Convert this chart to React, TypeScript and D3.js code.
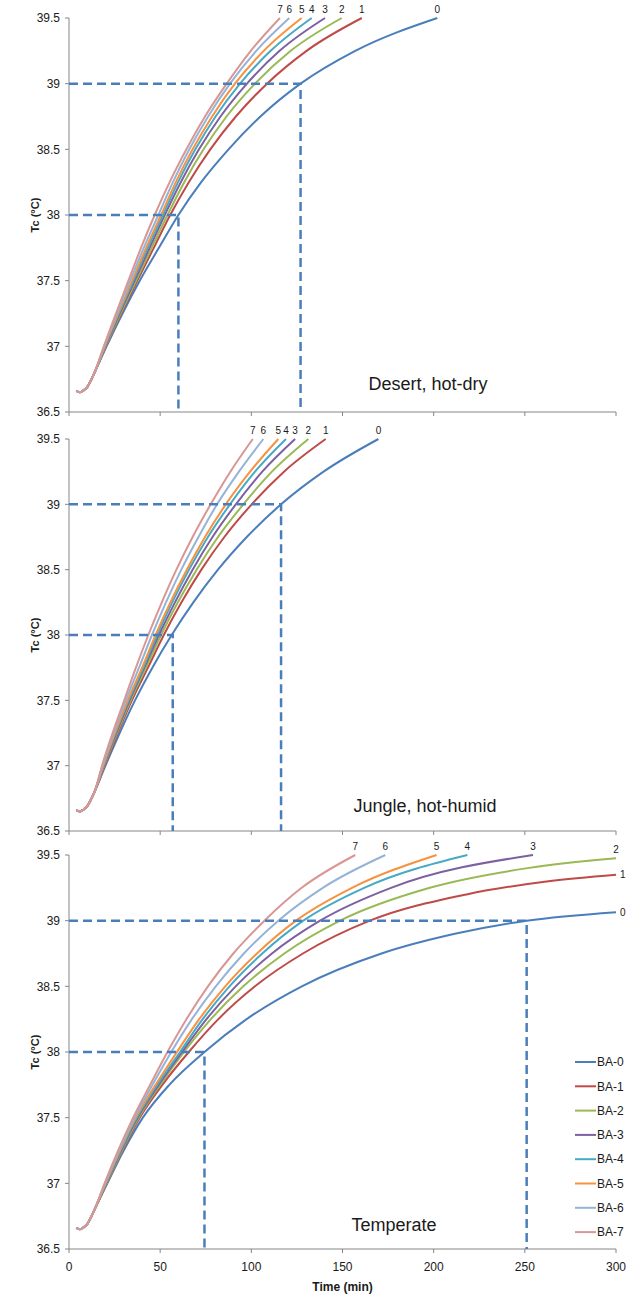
import { useEffect, useRef } from "react";
import * as d3 from "d3";

// ---- data ----
const SERIES = ["BA-0", "BA-1", "BA-2", "BA-3", "BA-4", "BA-5", "BA-6", "BA-7"];
const END_LABELS = ["0", "1", "2", "3", "4", "5", "6", "7"];

const X_TICKS = [0, 50, 100, 150, 200, 250, 300];
const Y_TICKS = [36.5, 37, 37.5, 38, 38.5, 39, 39.5];

// shared warm-up hook at the start of every curve [time, Tc]
const START: [number, number][] = [[4, 36.66], [6, 36.65], [8, 36.665], [10, 36.69], [12, 36.74], [14, 36.8]];

// [time (min), Tc] per series, BA-0 .. BA-7
const DESERT: [number, number][][] = [
  [[20.6, 37], [38.8, 37.5], [49.3, 37.75], [60, 38], [72.5, 38.25], [87.5, 38.5], [105, 38.75], [127, 39], [157, 39.25], [202, 39.5]],
  [[20.3, 37], [37.5, 37.5], [46.5, 37.75], [55.5, 38], [65.7, 38.25], [77.5, 38.5], [91.5, 38.75], [108.6, 39], [130.3, 39.25], [160.6, 39.5]],
  [[20.1, 37], [36.8, 37.5], [45.3, 37.75], [54, 38], [63.2, 38.25], [73.8, 38.5], [86.4, 38.75], [102, 39], [121.6, 39.25], [149.6, 39.5]],
  [[19.9, 37], [36, 37.5], [44.2, 37.75], [52.5, 38], [61.3, 38.25], [71.3, 38.5], [83.1, 38.75], [97.6, 39], [115.5, 39.25], [140.4, 39.5]],
  [[19.7, 37], [35.3, 37.5], [43.2, 37.75], [51.5, 38], [59.8, 38.25], [69.3, 38.5], [80.4, 38.75], [93.8, 39], [110.6, 39.25], [133.1, 39.5]],
  [[19.5, 37], [34.6, 37.5], [42.3, 37.75], [50.5, 38], [58.6, 38.25], [67.8, 38.5], [78.5, 38.75], [91, 39], [106.8, 39.25], [127.6, 39.5]],
  [[19.3, 37], [33.6, 37.5], [41, 37.75], [49, 38], [57, 38.25], [66, 38.5], [76.3, 38.75], [88.3, 39], [102.7, 39.25], [120.8, 39.5]],
  [[19.1, 37], [32.6, 37.5], [39.5, 37.75], [47, 38], [55.2, 38.25], [64.4, 38.5], [74.6, 38.75], [86.5, 39], [99.7, 39.25], [115.7, 39.5]],
];

const JUNGLE: [number, number][][] = [
  [[20, 37], [36.2, 37.5], [45.7, 37.75], [56.3, 38], [68.2, 38.25], [81.7, 38.5], [97.5, 38.75], [116.3, 39], [139.6, 39.25], [169.7, 39.5]],
  [[19.6, 37], [34.5, 37.5], [43.3, 37.75], [52, 38], [61.7, 38.25], [72.6, 38.5], [85.2, 38.75], [100.2, 39], [117.9, 39.25], [140.8, 39.5]],
  [[19.3, 37], [33.8, 37.5], [42.2, 37.75], [50.5, 38], [59.7, 38.25], [70, 38.5], [81.7, 38.75], [95.6, 39], [111.3, 39.25], [131.3, 39.5]],
  [[19.1, 37], [33.2, 37.5], [41.3, 37.75], [49.3, 38], [58.1, 38.25], [67.8, 38.5], [78.7, 38.75], [91.5, 39], [106, 39.25], [124, 39.5]],
  [[18.9, 37], [32.7, 37.5], [40.8, 37.75], [48.3, 38], [56.6, 38.25], [65.8, 38.5], [76.2, 38.75], [88.3, 39], [102, 39.25], [119, 39.5]],
  [[18.7, 37], [32.2, 37.5], [40.1, 37.75], [47.5, 38], [55.6, 38.25], [64.6, 38.5], [74.6, 38.75], [86, 39], [99.3, 39.25], [114.8, 39.5]],
  [[18.4, 37], [31.2, 37.5], [38.4, 37.75], [45.5, 38], [53.2, 38.25], [61.6, 38.5], [71, 38.75], [81.2, 39], [93.2, 39.25], [106.6, 39.5]],
  [[18.1, 37], [30.3, 37.5], [36.7, 37.75], [43.5, 38], [50.9, 38.25], [58.9, 38.5], [67.8, 38.75], [77.7, 39], [88.5, 39.25], [100.8, 39.5]],
];

const TEMPERATE: [number, number][][] = [
  [[21, 37], [30, 37.25], [40.5, 37.5], [55, 37.75], [74.3, 38], [97.4, 38.25], [127.7, 38.5], [171.4, 38.75], [211.6, 38.9], [251, 39], [300, 39.065]],
  [[20.8, 37], [29.3, 37.25], [38.8, 37.5], [51.2, 37.75], [65.7, 38], [81.9, 38.25], [102, 38.5], [128.3, 38.75], [165, 39], [218, 39.2], [263, 39.3], [300, 39.35]],
  [[20.6, 37], [38.2, 37.5], [50, 37.75], [63.1, 38], [77.8, 38.25], [95.6, 38.5], [118.1, 38.75], [148.7, 39], [197.9, 39.25], [251.5, 39.4], [300, 39.475]],
  [[20.4, 37], [37.6, 37.5], [49.2, 37.75], [62, 38], [75.4, 38.25], [91.4, 38.5], [111.3, 38.75], [137.7, 39], [176.6, 39.25], [254.5, 39.5]],
  [[20.2, 37], [37.1, 37.5], [48.4, 37.75], [60.9, 38], [73.3, 38.25], [88, 38.5], [106, 38.75], [128.5, 39], [161.9, 39.25], [218.5, 39.5]],
  [[20, 37], [36.5, 37.5], [47.5, 37.75], [59.2, 38], [71.4, 38.25], [85.7, 38.5], [103.1, 38.75], [124.5, 39], [155.2, 39.25], [201.6, 39.5]],
  [[19.8, 37], [36, 37.5], [45.8, 37.75], [56.1, 38], [67.4, 38.25], [80.5, 38.5], [95.9, 38.75], [114.8, 39], [139.2, 39.25], [173.5, 39.5]],
  [[19.5, 37], [35.2, 37.5], [44.5, 37.75], [54, 38], [64.4, 38.25], [76.2, 38.5], [90.1, 38.75], [107.2, 39], [127.6, 39.25], [157, 39.5]],
];

// dashed read-off guides [time, Tc]
const DESERT_GUIDES: [number, number][] = [[60, 38], [127, 39]];
const JUNGLE_GUIDES: [number, number][] = [[56.9, 38], [116.3, 39]];
const TEMPERATE_GUIDES: [number, number][] = [[74.3, 38], [251, 39]];

const PANEL_TITLES = ["Desert, hot-dry", "Jungle, hot-humid", "Temperate"];
// where the end label sits in the temperate panel
const TEMPERATE_LABEL_SIDE = ["right", "right", "above", "above", "above", "above", "above", "above"];

const COLORS = ["#4a7ebb", "#be4b48", "#98b954", "#7d60a0", "#46aac5", "#f69240", "#95b3d7", "#d99694"];
const GUIDE = "#4a7ebb";
const AXIS = "#868686";
const TEXT = "#1a1a1a";
const FONT = "'Liberation Sans', Arial, sans-serif";

const W = 639;
const H = 1300;
const X0 = 69;
const X1 = 616;

export default function App() {
  const svgRef = useRef<SVGSVGElement>(null);

  useEffect(() => {
    if (!svgRef.current) return;
    const svg = d3.select(svgRef.current);
    svg.selectAll("*").remove();

    const x = d3.scaleLinear().domain([0, 300]).range([X0, X1]);

    const panels = [
      { curves: DESERT, guides: DESERT_GUIDES, top: 18, bottom: 412, titleX: 428, titleY: 390 },
      { curves: JUNGLE, guides: JUNGLE_GUIDES, top: 439, bottom: 831, titleX: 425, titleY: 812 },
      { curves: TEMPERATE, guides: TEMPERATE_GUIDES, top: 855, bottom: 1249, titleX: 394, titleY: 1231 },
    ];

    panels.forEach((p, pi) => {
      const y = d3.scaleLinear().domain([36.5, 39.5]).range([p.bottom, p.top]);
      const g = svg.append("g").attr("class", `panel-${pi}`);

      // axes
      g.append("line")
        .attr("x1", X0).attr("x2", X0)
        .attr("y1", p.top).attr("y2", p.bottom)
        .attr("stroke", AXIS);
      g.append("line")
        .attr("x1", X0).attr("x2", X1)
        .attr("y1", p.bottom).attr("y2", p.bottom)
        .attr("stroke", AXIS);

      g.selectAll("line.ytick")
        .data(Y_TICKS)
        .join("line")
        .attr("class", "ytick")
        .attr("x1", X0 - 4).attr("x2", X0)
        .attr("y1", (d) => y(d)).attr("y2", (d) => y(d))
        .attr("stroke", AXIS);

      g.selectAll("text.ylab")
        .data(Y_TICKS)
        .join("text")
        .attr("class", "ylab")
        .attr("x", X0 - 9)
        .attr("y", (d) => y(d))
        .attr("dy", "0.35em")
        .attr("text-anchor", "end")
        .attr("font-family", FONT)
        .attr("font-size", 12)
        .attr("fill", TEXT)
        .text((d) => String(d));

      g.selectAll("line.xtick")
        .data(X_TICKS)
        .join("line")
        .attr("class", "xtick")
        .attr("x1", (d) => x(d)).attr("x2", (d) => x(d))
        .attr("y1", p.bottom).attr("y2", p.bottom + 4)
        .attr("stroke", AXIS);

      if (pi === 2) {
        g.selectAll("text.xlab")
          .data(X_TICKS)
          .join("text")
          .attr("class", "xlab")
          .attr("x", (d) => x(d))
          .attr("y", p.bottom + 22)
          .attr("text-anchor", "middle")
          .attr("font-family", FONT)
          .attr("font-size", 12)
          .attr("fill", TEXT)
          .text((d) => String(d));

        g.append("text")
          .attr("x", (X0 + X1) / 2)
          .attr("y", p.bottom + 42)
          .attr("text-anchor", "middle")
          .attr("font-family", FONT)
          .attr("font-size", 12)
          .attr("font-weight", 700)
          .attr("fill", TEXT)
          .text("Time (min)");
      }

      // y axis title
      g.append("text")
        .attr("transform", `translate(39,${(p.top + p.bottom) / 2}) rotate(-90)`)
        .attr("text-anchor", "middle")
        .attr("font-family", FONT)
        .attr("font-size", 11)
        .attr("font-weight", 700)
        .attr("fill", TEXT)
        .text("Tc (°C)");

      // curves
      const line = d3.line<[number, number]>()
        .x((d) => x(d[0]))
        .y((d) => y(d[1]))
        .curve(d3.curveMonotoneX);

      p.curves.forEach((pts, i) => {
        g.append("path")
          .datum([...START, ...pts])
          .attr("d", line)
          .attr("fill", "none")
          .attr("stroke", COLORS[i])
          .attr("stroke-width", 2);
      });

      // dashed guides
      p.guides.forEach(([t, v]) => {
        g.append("path")
          .attr("d", `M${X0},${y(v)}H${x(t)}V${p.bottom}`)
          .attr("fill", "none")
          .attr("stroke", GUIDE)
          .attr("stroke-width", 2.5)
          .attr("stroke-dasharray", "9,5");
      });

      // end labels
      p.curves.forEach((pts, i) => {
        const [t, v] = pts[pts.length - 1];
        const side = pi === 2 ? TEMPERATE_LABEL_SIDE[i] : "above";
        g.append("text")
          .attr("x", side === "right" ? x(t) + 4 : x(t))
          .attr("y", side === "right" ? y(v) : y(v) - 9)
          .attr("dy", "0.35em")
          .attr("text-anchor", side === "right" ? "start" : "middle")
          .attr("font-family", FONT)
          .attr("font-size", 10)
          .attr("fill", TEXT)
          .text(END_LABELS[i]);
      });

      // panel title
      g.append("text")
        .attr("x", p.titleX)
        .attr("y", p.titleY)
        .attr("text-anchor", "middle")
        .attr("font-family", FONT)
        .attr("font-size", 18)
        .attr("fill", TEXT)
        .text(PANEL_TITLES[pi]);

      // legend sits in the last panel
      if (pi === 2) {
        const lg = g.append("g").attr("class", "legend");
        SERIES.forEach((name, i) => {
          const ly = 1062 + i * 24.3;
          lg.append("line")
            .attr("x1", 575).attr("x2", 596)
            .attr("y1", ly).attr("y2", ly)
            .attr("stroke", COLORS[i])
            .attr("stroke-width", 2);
          lg.append("text")
            .attr("x", 597)
            .attr("y", ly)
            .attr("dy", "0.35em")
            .attr("font-family", FONT)
            .attr("font-size", 12)
            .attr("fill", TEXT)
            .text(name);
        });
      }
    });
  }, []);

  return (
    <svg
      ref={svgRef}
      width={W}
      height={H}
      style={{ position: "absolute", left: 0, top: 0, background: "#fff", display: "block" }}
    />
  );
}
